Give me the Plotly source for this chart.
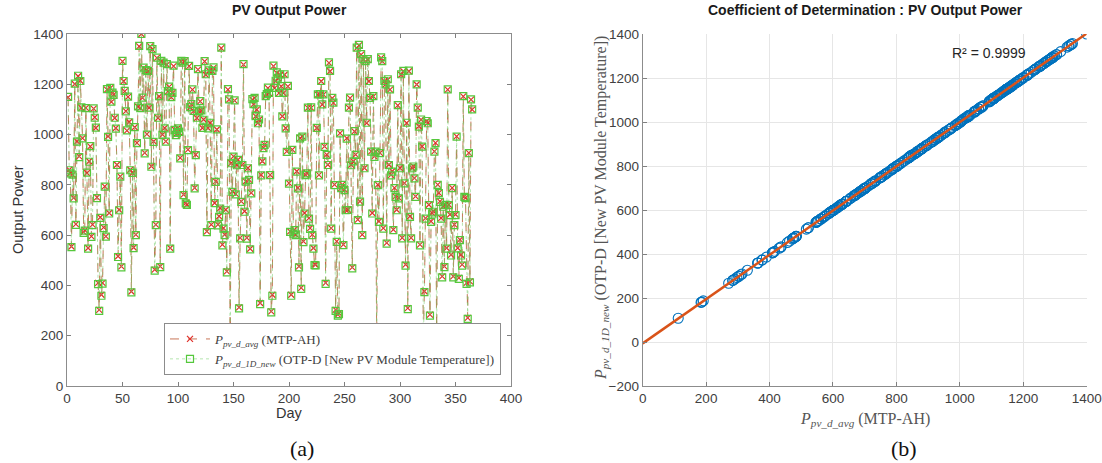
import numpy as np
import plotly.graph_objects as go

W, H = 1102, 463

# Day index (1..365)
days = list(range(1, 366))

# P_pv_d_avg (MTP-AH), values
p_avg = [
    1148, 860, 847, 555, 840, 748, 1201, 644, 973, 1232,
    913, 1214, 1106, 986, 612, 620, 1106, 847, 549, 894,
    953, 595, 642, 1103, 1069, 1026, 750, 410, 303, 671,
    363, 410, 631, 794, 595, 1179, 993, 688, 1185, 1130,
    1165, 1159, 1066, 1026, 880, 516, 701, 834, 476, 1291,
    1212, 1172, 1093, 1016, 1150, 1050, 860, 376, 847, 551,
    1029, 602, 967, 1110, 1351, 1106, 1400, 1146, 1265, 927,
    1254, 1002, 1252, 1106, 1351, 874, 1338, 973, 463, 642,
    1305, 1066, 1152, 476, 1291, 1000, 1285, 1026,
    973, 1278, 1172, 1190, 549, 1148, 1165, 1272, 1020, 1000,
    1006, 1026, 1010, 907, 1291, 1285, 761, 1291, 728, 721,
    940, 1272, 1108, 1120, 1179, 1093, 788, 920, 1066, 1258,
    1093, 1132, 1095, 1026, 1060, 1291, 1238, 615, 1026, 1254,
    1046, 642, 1252, 1265, 728, 814, 1020, 642, 675, 708,
    1344, 562, 628, 602, 701, 456, 1179, 1139, 112, 887,
    774, 913, 1135, 764, 880, 900, 313, 589, 734, 880,
    1278, 695, 814, 589, 867, 821, 546, 768, 1139, 1120,
    1145, 1073, 1099, 1046, 1059, 330, 840, 894, 947, 960,
    1152, 1160, 1185, 1165, 840, 297,
    363, 1272, 1185, 1212, 1245, 1225, 1165, 1238, 1192, 1073,
    1165, 1238, 1026, 933, 1192, 807, 615, 363, 940, 609,
    622, 602, 854, 788, 476, 986, 390, 993, 575, 688,
    840, 847, 1106, 668, 628, 1106, 602, 549, 485, 483,
    1026, 1159, 840, 1159, 1212, 1119, 1159, 953, 410, 920,
    880, 1285, 1252, 628, 1145, 1126, 801, 303, 575, 284,
    290, 1006, 788, 801, 562, 781, 701, 986, 701, 1106,
    1145, 880, 472, 894, 1013, 920, 1344, 662, 1355, 734,
    1318, 602, 1298, 867, 1291, 1046, 1298, 1212, 1145, 933,
    688, 1152, 913, 933, 184,
    801, 655, 927, 1305, 1291, 628, 1212, 1199, 569, 1218,
    880, 1179, 840, 854, 622, 788, 754, 701, 1116, 748,
    867, 1238, 589, 1252, 807, 483, 1046, 310, 1252, 675,
    589, 867, 874, 827, 754, 1199, 1106, 1033, 562, 1059,
    953, 186, 377, 668, 1053, 1046, 721, 284, 655, 688,
    695, 933, 967, 191, 801, 768, 734, 668, 436, 715,
    476, 721, 549, 1179, 721, 682, 522, 788, 436, 642,
    682, 993, 549, 430, 582, 522, 483, 1152, 754, 748,
    410, 271, 927, 416, 1139, 1099,
]

# P_pv_d_1D_new (OTP-D [New PV Module Temperature])
p_new = [
    1150, 858, 846, 552, 841, 746, 1203, 641, 972, 1234,
    910, 1213, 1108, 985, 609, 618, 1105, 849, 546, 892,
    954, 593, 640, 1104, 1067, 1028, 747, 405, 299, 669,
    359, 407, 628, 793, 594, 1181, 991, 686, 1186, 1131,
    1167, 1158, 1067, 1024, 879, 513, 699, 833, 472, 1293,
    1213, 1174, 1092, 1017, 1151, 1049, 858, 372, 848, 548,
    1030, 600, 966, 1112, 1353, 1105, 1400, 1147, 1266, 925,
    1256, 1000, 1253, 1107, 1352, 872, 1340, 971, 459, 640,
    1306, 1067, 1153, 473, 1293, 999, 1286, 1025,
    972, 1280, 1173, 1191, 546, 1149, 1166, 1274, 1019, 998,
    1007, 1025, 1011, 905, 1293, 1286, 759, 1292, 726, 720,
    938, 1273, 1109, 1121, 1180, 1094, 786, 918, 1067, 1260,
    1092, 1133, 1096, 1027, 1059, 1292, 1240, 612, 1025, 1255,
    1047, 640, 1253, 1267, 727, 812, 1021, 639, 673, 706,
    1346, 559, 626, 600, 699, 452, 1181, 1140, 108, 886,
    772, 912, 1136, 762, 878, 899, 309, 587, 732, 879,
    1280, 693, 813, 586, 866, 820, 543, 766, 1141, 1121,
    1146, 1074, 1100, 1045, 1060, 326, 838, 893, 946, 959,
    1153, 1161, 1187, 1166, 839, 293,
    359, 1274, 1186, 1214, 1247, 1226, 1166, 1239, 1193, 1072,
    1166, 1240, 1025, 931, 1194, 805, 613, 359, 939, 606,
    620, 600, 853, 786, 472, 985, 386, 992, 572, 686,
    839, 846, 1107, 666, 625, 1108, 600, 546, 481, 480,
    1027, 1160, 838, 1161, 1213, 1120, 1160, 951, 406, 919,
    879, 1287, 1253, 626, 1146, 1127, 799, 299, 573, 280,
    286, 1005, 787, 800, 560, 779, 699, 984, 700, 1107,
    1147, 878, 468, 893, 1014, 919, 1346, 660, 1357, 733,
    1320, 600, 1300, 866, 1292, 1047, 1300, 1213, 1146, 932,
    686, 1153, 911, 932, 180,
    799, 653, 926, 1307, 1292, 626, 1213, 1200, 566, 1220,
    879, 1180, 838, 853, 620, 787, 752, 699, 1117, 746,
    866, 1240, 587, 1253, 806, 479, 1047, 306, 1254, 673,
    587, 866, 873, 826, 752, 1200, 1107, 1032, 559, 1060,
    952, 182, 373, 666, 1054, 1045, 719, 280, 653, 686,
    693, 932, 966, 187, 800, 767, 732, 666, 432, 713,
    473, 720, 546, 1180, 719, 680, 519, 787, 432, 640,
    680, 992, 547, 426, 580, 519, 479, 1153, 752, 747,
    406, 267, 926, 412, 1140, 1100,
]

left_xticks = [0, 50, 100, 150, 200, 250, 300, 350, 400]
left_yticks = [0, 200, 400, 600, 800, 1000, 1200, 1400]
right_xticks = [0, 200, 400, 600, 800, 1000, 1200, 1400]
right_yticks = [-200, 0, 200, 400, 600, 800, 1000, 1200, 1400]

r2_text = "R² = 0.9999"
name_avg = "<i>P</i><sub><i>pv_d_avg</i></sub> (MTP-AH)"
name_new = "<i>P</i><sub><i>pv_d_1D_new</i></sub> (OTP-D [New PV Module Temperature])"

def px(x):
    return x / W

def py(y):
    return 1 - y / H

fig = go.Figure()

# Left chart
fig.add_trace(go.Scatter(
    x=days, y=p_avg, mode="lines+markers", name=name_avg,
    line=dict(color="rgba(190,95,60,0.85)", width=1, dash="dash"),
    marker=dict(symbol="x-thin-open", size=6, color="#e0302a",
                line=dict(color="#e0302a", width=1.2)),
    xaxis="x", yaxis="y",
))
fig.add_trace(go.Scatter(
    x=days, y=p_new, mode="lines+markers", name=name_new,
    line=dict(color="rgba(120,205,110,0.55)", width=1, dash="dot"),
    marker=dict(symbol="square-open", size=7, color="#55c83c",
                line=dict(color="#55c83c", width=1.2)),
    xaxis="x", yaxis="y",
))

# Right chart: scatter + fit
fig.add_trace(go.Scatter(
    x=p_avg, y=p_new, mode="markers", showlegend=False,
    marker=dict(symbol="circle-open", size=10, color="#0072BD",
                line=dict(color="#0072BD", width=1.1)),
    xaxis="x2", yaxis="y2",
))
coef = np.polyfit(np.array(p_avg, float), np.array(p_new, float), 1)
fit_x = np.array([0.0, float(max(p_avg))])
fit_y = np.polyval(coef, fit_x)
fig.add_trace(go.Scatter(
    x=fit_x, y=fit_y, mode="lines", showlegend=False,
    line=dict(color="#D95319", width=2.5),
    xaxis="x2", yaxis="y2",
))

tickfont = dict(family="Liberation Sans, Arial, sans-serif", size=13.5, color="#404040")
axis_common = dict(showgrid=False, zeroline=False, ticks="inside", ticklen=4,
                   tickcolor="#7f7f7f", linecolor="#8c8c8c", linewidth=1,
                   tickfont=tickfont, showline=True, automargin=False)

L_DOM_X = [px(67), px(511)]
R_DOM_X = [px(642.7), px(1086.7)]
DOM_Y = [py(386), py(34)]

fig.update_layout(
    width=W, height=H,
    margin=dict(l=0, r=0, t=0, b=0, autoexpand=False),
    paper_bgcolor="white", plot_bgcolor="white",
    xaxis=dict(domain=L_DOM_X, range=[0, 400], tickvals=left_xticks,
               mirror="ticks", anchor="y", **axis_common),
    yaxis=dict(domain=DOM_Y, range=[0, 1400], tickvals=left_yticks,
               mirror="ticks", anchor="x", **axis_common),
    xaxis2=dict(domain=R_DOM_X, range=[0, 1400], tickvals=right_xticks,
                anchor="y2", **{**axis_common, "showgrid": True,
                                "gridcolor": "#e6e6e6", "gridwidth": 1}),
    yaxis2=dict(domain=DOM_Y, range=[-200, 1400], tickvals=right_yticks,
                anchor="x2", **{**axis_common, "showgrid": True,
                                "gridcolor": "#e6e6e6", "gridwidth": 1}),
    showlegend=True,
    legend=dict(x=px(501), y=py(375), xanchor="right", yanchor="bottom",
                bgcolor="white", bordercolor="#8c8c8c", borderwidth=1,
                font=dict(family="Liberation Serif, Times New Roman, serif",
                          size=13, color="#404040"),
                tracegroupgap=0, itemwidth=40),
)

sans = "Liberation Sans, Arial, sans-serif"
serif = "Liberation Serif, Times New Roman, serif"
annots = [
    dict(text="<b>PV Output Power</b>", x=px(289), y=py(10),
         font=dict(family=sans, size=14, color="#1a1a1a")),
    dict(text="<b>Coefficient of Determination : PV Output Power</b>",
         x=px(865), y=py(10), font=dict(family=sans, size=14, color="#1a1a1a")),
    dict(text="Output Power", x=px(18), y=py(210), textangle=-90,
         font=dict(family=sans, size=14.5, color="#333333")),
    dict(text="Day", x=px(289.5), y=py(413),
         font=dict(family=sans, size=14.5, color="#333333")),
    dict(text=name_avg, x=px(865), y=py(419),
         font=dict(family=serif, size=16, color="#555555")),
    dict(text=name_new, x=px(601), y=py(208), textangle=-90,
         font=dict(family=serif, size=16, color="#555555")),
    dict(text=r2_text, x=px(989), y=py(53),
         font=dict(family=sans, size=14, color="#262626")),
    dict(text="(a)", x=px(302), y=py(448),
         font=dict(family=serif, size=22, color="#111111")),
    dict(text="(b)", x=px(904), y=py(448),
         font=dict(family=serif, size=22, color="#111111")),
]
for a in annots:
    a.update(xref="paper", yref="paper", showarrow=False,
             xanchor="center", yanchor="middle")
fig.update_layout(annotations=annots)

fig.write_html("out.html")
